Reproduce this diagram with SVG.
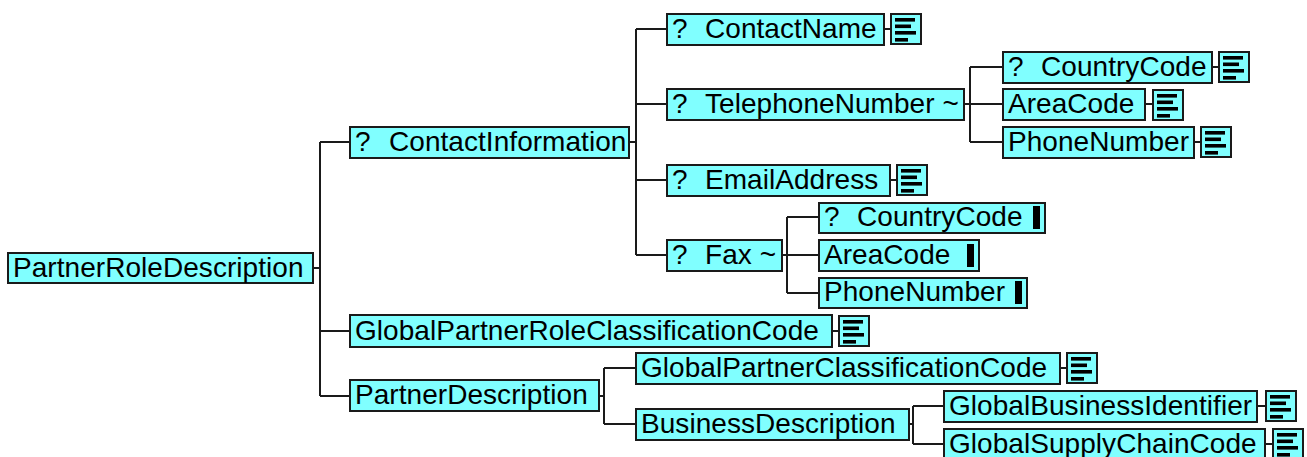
<svg xmlns="http://www.w3.org/2000/svg" xmlns:xlink="http://www.w3.org/1999/xlink" width="1307" height="457" viewBox="0 0 1307 457">
<style>
.box{fill:#80ffff;stroke:#1a1a1a;stroke-width:2}
.lbl{font-family:"Liberation Sans",Arial,sans-serif;font-size:28px;fill:#000;letter-spacing:0.05px}
.conn{fill:none;stroke:#1a1a1a;stroke-width:2}
.bar{fill:#000}
</style>
<defs>
<symbol id="doc" viewBox="0 0 32 32" overflow="visible">
<rect x="1" y="1" width="30" height="30" class="box"/>
<rect x="5" y="5" width="20" height="3.6" class="bar"/>
<rect x="5" y="11.5" width="16" height="3.6" class="bar"/>
<rect x="5" y="18" width="21" height="3.6" class="bar"/>
<rect x="5" y="25" width="13" height="3.6" class="bar"/>
</symbol>
</defs>
<rect width="1307" height="457" fill="#fff"/>
<g id="connectors">
<path class="conn" d="M314 268H320M320 142V396M320 142H349M320 331H349M320 396H349"/>
<path class="conn" d="M630 142H636M636 29V255M636 29H666M636 104H666M636 180H666M636 255H666"/>
<path class="conn" d="M965 104H970M970 67V142M970 67H1002M970 104H1002M970 142H1002"/>
<path class="conn" d="M783 255H787M787 217V293M787 217H818M787 255H818M787 293H818"/>
<path class="conn" d="M600 396H604M604 368V424M604 368H635M604 424H635"/>
<path class="conn" d="M910 424H913M913 406V444M913 406H943M913 444H943"/>
<path class="conn" d="M833 331H838M885 29H890M891 180H896M1213 67H1218M1146 104H1152M1195 142H1200M1061 368H1066M1258 406H1265M1266 444H1272"/>
</g>
<g id="n-PartnerRoleDescription">
<rect class="box" x="8" y="253" width="305" height="30"/>
<text class="lbl" x="13" y="277">PartnerRoleDescription</text>
</g>
<g id="n-ContactInformation">
<rect class="box" x="350" y="127" width="279" height="31"/>
<text class="lbl" x="355" y="151">?<tspan x="389">ContactInformation</tspan></text>
</g>
<g id="n-GlobalPartnerRoleClassificationCode">
<rect class="box" x="350" y="315" width="482" height="32"/>
<text class="lbl" x="355" y="340">GlobalPartnerRoleClassificationCode</text>
<use href="#doc" x="838" y="315" width="32" height="32"/>
</g>
<g id="n-PartnerDescription">
<rect class="box" x="350" y="380" width="249" height="31"/>
<text class="lbl" x="355" y="404">PartnerDescription</text>
</g>
<g id="n-ContactName">
<rect class="box" x="667" y="14" width="217" height="31"/>
<text class="lbl" x="672" y="38">?<tspan x="705">ContactName</tspan></text>
<use href="#doc" x="890" y="13" width="32" height="32"/>
</g>
<g id="n-TelephoneNumber">
<rect class="box" x="667" y="89" width="297" height="31"/>
<text class="lbl" x="672" y="113">?<tspan x="705">TelephoneNumber ~</tspan></text>
</g>
<g id="n-EmailAddress">
<rect class="box" x="667" y="165" width="223" height="31"/>
<text class="lbl" x="672" y="189">?<tspan x="705">EmailAddress</tspan></text>
<use href="#doc" x="896" y="164" width="32" height="32"/>
</g>
<g id="n-Fax">
<rect class="box" x="667" y="240" width="115" height="31"/>
<text class="lbl" x="672" y="264">?<tspan x="705">Fax ~</tspan></text>
</g>
<g id="n-Tel-CountryCode">
<rect class="box" x="1003" y="52" width="209" height="31"/>
<text class="lbl" x="1008" y="76">?<tspan x="1041">CountryCode</tspan></text>
<use href="#doc" x="1218" y="51" width="32" height="32"/>
</g>
<g id="n-Tel-AreaCode">
<rect class="box" x="1003" y="89" width="142" height="31"/>
<text class="lbl" x="1008" y="113">AreaCode</text>
<use href="#doc" x="1152" y="89" width="32" height="32"/>
</g>
<g id="n-Tel-PhoneNumber">
<rect class="box" x="1003" y="127" width="191" height="31"/>
<text class="lbl" x="1008" y="151">PhoneNumber</text>
<use href="#doc" x="1200" y="126" width="32" height="32"/>
</g>
<g id="n-Fax-CountryCode">
<rect class="box" x="819" y="203" width="226" height="30"/>
<text class="lbl" x="824" y="226">?<tspan x="857">CountryCode</tspan></text>
<rect class="bar" x="1033" y="206" width="7" height="23"/>
</g>
<g id="n-Fax-AreaCode">
<rect class="box" x="819" y="240" width="160" height="31"/>
<text class="lbl" x="824" y="264">AreaCode</text>
<rect class="bar" x="967" y="244" width="7" height="23"/>
</g>
<g id="n-Fax-PhoneNumber">
<rect class="box" x="819" y="278" width="208" height="30"/>
<text class="lbl" x="824" y="301">PhoneNumber</text>
<rect class="bar" x="1015" y="281" width="7" height="23"/>
</g>
<g id="n-GlobalPartnerClassificationCode">
<rect class="box" x="636" y="353" width="424" height="31"/>
<text class="lbl" x="641" y="377">GlobalPartnerClassificationCode</text>
<use href="#doc" x="1066" y="352" width="32" height="32"/>
</g>
<g id="n-BusinessDescription">
<rect class="box" x="636" y="409" width="273" height="31"/>
<text class="lbl" x="641" y="433">BusinessDescription</text>
</g>
<g id="n-GlobalBusinessIdentifier">
<rect class="box" x="944" y="391" width="313" height="31"/>
<text class="lbl" x="949" y="415">GlobalBusinessIdentifier</text>
<use href="#doc" x="1265" y="390" width="32" height="32"/>
</g>
<g id="n-GlobalSupplyChainCode">
<rect class="box" x="944" y="429" width="321" height="31"/>
<text class="lbl" x="949" y="453">GlobalSupplyChainCode</text>
<use href="#doc" x="1272" y="428" width="32" height="32"/>
</g>
</svg>
